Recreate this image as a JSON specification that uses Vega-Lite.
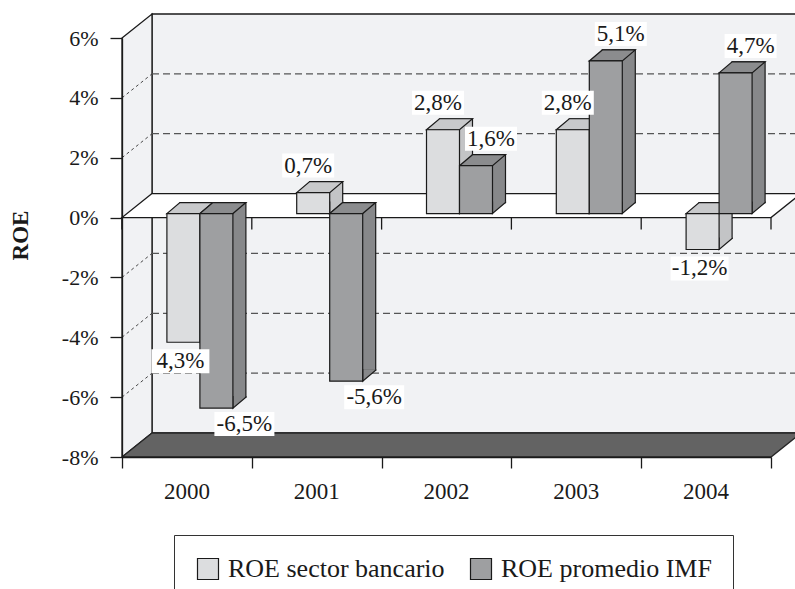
{
  "$schema": "https://vega.github.io/schema/vega-lite/v6.json",
  "width": 649,
  "height": 419,
  "autosize": {"type": "none"},
  "padding": {"left": 122, "top": 38, "right": 24, "bottom": 132},
  "background": "white",
  "config": {"view": {"stroke": null}, "font": "Liberation Serif"},
  "datasets": {
    "bars": [
      {"year": "2000", "serie": "ROE sector bancario", "v": -4.3, "label": "4,3%"},
      {"year": "2000", "serie": "ROE promedio IMF", "v": -6.5, "label": "-6,5%"},
      {"year": "2001", "serie": "ROE sector bancario", "v": 0.7, "label": "0,7%"},
      {"year": "2001", "serie": "ROE promedio IMF", "v": -5.6, "label": "-5,6%"},
      {"year": "2002", "serie": "ROE sector bancario", "v": 2.8, "label": "2,8%"},
      {"year": "2002", "serie": "ROE promedio IMF", "v": 1.6, "label": "1,6%"},
      {"year": "2003", "serie": "ROE sector bancario", "v": 2.8, "label": "2,8%"},
      {"year": "2003", "serie": "ROE promedio IMF", "v": 5.1, "label": "5,1%"},
      {"year": "2004", "serie": "ROE sector bancario", "v": -1.2, "label": "-1,2%"},
      {"year": "2004", "serie": "ROE promedio IMF", "v": 4.7, "label": "4,7%"}
    ],
    "grid": [{"g": 4}, {"g": 2}, {"g": -2}, {"g": -4}, {"g": -6}],
    "bounds": [{"b": 0}, {"b": 1}, {"b": 2}, {"b": 3}, {"b": 4}, {"b": 5}],
    "side": [{"sx": 0, "lo": -8, "hi": 6}, {"sx": 0.2311, "lo": -7.198, "hi": 6.802}],
    "floor0": [{"fy": 0, "xa": 0, "xb": 5}, {"fy": 0.802, "xa": 0.2311, "xb": 5.2311}],
    "floor8": [{"fy": -8, "xa": 0, "xb": 5}, {"fy": -7.198, "xa": 0.2311, "xb": 5.2311}]
  },
  "resolve": {"scale": {"x": "independent"}, "axis": {"x": "independent"}},
  "layer": [
    {
      "layer": [
        {
          "data": {"values": [{}]},
          "mark": {"type": "rect", "fill": "#f1f2f4", "stroke": "#1a1a1a", "strokeWidth": 1.3, "xOffset": 30, "x2Offset": 30, "yOffset": -24, "y2Offset": -24},
          "encoding": {
            "x": {"datum": 0, "type": "quantitative", "title": null, "scale": {"domain": [0, 5], "nice": false, "zero": false},
              "axis": {"orient": "bottom", "values": [0, 1, 2, 3, 4, 5], "labels": false, "ticks": true, "tickSize": 11, "tickColor": "#1a1a1a", "tickWidth": 1.3, "domain": true, "domainColor": "#1a1a1a", "domainWidth": 1.3, "grid": false, "zindex": 1}},
            "x2": {"datum": 5},
            "y": {"datum": -8, "type": "quantitative", "title": "ROE", "scale": {"domain": [-8, 6], "nice": false, "zero": false},
              "axis": {"values": [-8, -6, -4, -2, 0, 2, 4, 6], "labelExpr": "datum.value + '%'", "tickSize": 12, "tickColor": "#1a1a1a", "tickWidth": 1.3, "domainColor": "#1a1a1a", "domainWidth": 1.3, "labelPadding": 12, "labelFontSize": 22, "labelColor": "#1a1a1a", "labelFont": "Liberation Serif", "grid": false, "titleFontSize": 23, "titleFontWeight": "bold", "titleColor": "#1a1a1a", "titleFont": "Liberation Serif", "titleAngle": -90, "titleX": -102, "titleY": 197, "titleBaseline": "middle", "titleAlign": "center", "zindex": 1}},
            "y2": {"datum": 6}
          }
        },
        {
          "data": {"name": "side"},
          "mark": {"type": "area", "orient": "vertical", "fill": "#f1f2f4", "stroke": "#1a1a1a", "strokeWidth": 1.3},
          "encoding": {
            "x": {"field": "sx", "type": "quantitative", "title": null, "scale": {"domain": [0, 5], "nice": false, "zero": false}},
            "y": {"field": "hi", "type": "quantitative", "title": "ROE", "scale": {"domain": [-8, 6], "nice": false, "zero": false}},
            "y2": {"field": "lo"}
          }
        },
        {
          "data": {"name": "grid"},
          "mark": {"type": "rule", "stroke": "#555555", "strokeWidth": 1.2, "strokeDash": [7, 4], "xOffset": 30, "x2Offset": 30, "yOffset": -24},
          "encoding": {
            "x": {"datum": 0, "type": "quantitative", "title": null, "scale": {"domain": [0, 5], "nice": false, "zero": false}},
            "x2": {"datum": 5},
            "y": {"field": "g", "type": "quantitative", "title": "ROE", "scale": {"domain": [-8, 6], "nice": false, "zero": false}}
          }
        },
        {
          "data": {"name": "grid"},
          "mark": {"type": "rule", "stroke": "#333333", "strokeWidth": 0.9, "strokeDash": [3, 3], "x2Offset": 30, "y2Offset": -24},
          "encoding": {
            "x": {"datum": 0, "type": "quantitative", "title": null, "scale": {"domain": [0, 5], "nice": false, "zero": false}},
            "x2": {"datum": 0},
            "y": {"field": "g", "type": "quantitative", "title": "ROE", "scale": {"domain": [-8, 6], "nice": false, "zero": false}},
            "y2": {"field": "g"}
          }
        },
        {
          "data": {"name": "floor8"},
          "mark": {"type": "area", "orient": "horizontal", "fill": "#636363", "stroke": "#262626", "strokeWidth": 1.3},
          "encoding": {
            "y": {"field": "fy", "type": "quantitative", "title": "ROE", "scale": {"domain": [-8, 6], "nice": false, "zero": false}},
            "x": {"field": "xa", "type": "quantitative", "title": null, "scale": {"domain": [0, 5], "nice": false, "zero": false}},
            "x2": {"field": "xb"}
          }
        },
        {
          "data": {"name": "floor0"},
          "mark": {"type": "area", "orient": "horizontal", "fill": "#ffffff", "stroke": "#1a1a1a", "strokeWidth": 1.3},
          "encoding": {
            "y": {"field": "fy", "type": "quantitative", "title": "ROE", "scale": {"domain": [-8, 6], "nice": false, "zero": false}},
            "x": {"field": "xa", "type": "quantitative", "title": null, "scale": {"domain": [0, 5], "nice": false, "zero": false}},
            "x2": {"field": "xb"}
          }
        },
        {
          "data": {"name": "bounds"},
          "mark": {"type": "rule", "stroke": "#1a1a1a", "strokeWidth": 1.3, "y2Offset": 12},
          "encoding": {
            "x": {"field": "b", "type": "quantitative", "title": null, "scale": {"domain": [0, 5], "nice": false, "zero": false}},
            "y": {"datum": 0, "type": "quantitative", "title": "ROE", "scale": {"domain": [-8, 6], "nice": false, "zero": false}},
            "y2": {"datum": 0}
          }
        }
      ]
    },
    {
      "data": {"name": "bars"},
      "encoding": {
        "x": {"field": "year", "type": "ordinal", "title": null, "scale": {"paddingInner": 0.7458, "paddingOuter": 0.3729},
          "axis": {"orient": "bottom", "ticks": false, "tickSize": 0, "domain": false, "labelPadding": 23, "labelFontSize": 23, "labelColor": "#1a1a1a", "labelFont": "Liberation Serif", "labelAngle": 0, "grid": false, "zindex": 1}},
        "y": {"field": "v", "type": "quantitative", "title": "ROE", "scale": {"domain": [-8, 6], "nice": false, "zero": false}}
      },
      "layer": [
        {
          "mark": {"type": "bar", "stroke": "#1a1a1a", "strokeWidth": 1.2, "xOffset": {"expr": "datum.serie == 'ROE sector bancario' ? 9.5 : 42.5"}, "yOffset": -15, "y2Offset": -15},
          "encoding": {
            "y2": {"datum": 0},
            "fill": {"condition": {"test": "datum.serie == 'ROE sector bancario'", "value": "#c3c4c6"}, "value": "#87888a"}
          }
        },
        {
          "transform": [{"filter": "datum.v > 0"}],
          "mark": {"type": "point", "shape": "M16.5,-12L16.5,0L29.5,-11L29.5,-12", "size": 4, "filled": true, "opacity": 1, "stroke": "#1a1a1a", "strokeWidth": 1.2, "xOffset": {"expr": "datum.serie == 'ROE sector bancario' ? -3.5 : 29.5"}, "yOffset": -4},
          "encoding": {
            "y": {"datum": 0, "type": "quantitative"},
            "fill": {"condition": {"test": "datum.serie == 'ROE sector bancario'", "value": "#c3c4c6"}, "value": "#87888a"}
          }
        },
        {
          "transform": [{"filter": "datum.v < 0"}],
          "mark": {"type": "point", "shape": "M16.5,-12L16.5,0L29.5,-11L29.5,-12", "size": 4, "filled": true, "opacity": 1, "stroke": "#1a1a1a", "strokeWidth": 1.2, "xOffset": {"expr": "datum.serie == 'ROE sector bancario' ? -3.5 : 29.5"}, "yOffset": -4},
          "encoding": {
            "fill": {"condition": {"test": "datum.serie == 'ROE sector bancario'", "value": "#c3c4c6"}, "value": "#87888a"}
          }
        },
        {
          "transform": [{"filter": "datum.v > 0"}],
          "mark": {"type": "point", "shape": "M-16.5,0L16.5,0L29.5,-11L-3.5,-11Z", "size": 4, "filled": true, "opacity": 1, "stroke": "#1a1a1a", "strokeWidth": 1.2, "xOffset": {"expr": "datum.serie == 'ROE sector bancario' ? -3.5 : 29.5"}, "yOffset": -4},
          "encoding": {
            "fill": {"condition": {"test": "datum.serie == 'ROE sector bancario'", "value": "#c8c9cb"}, "value": "#8b8c8e"}
          }
        },
        {
          "transform": [{"filter": "datum.v < 0"}],
          "mark": {"type": "point", "shape": "M-16.5,0L16.5,0L29.5,-11L-3.5,-11Z", "size": 4, "filled": true, "opacity": 1, "stroke": "#1a1a1a", "strokeWidth": 1.2, "xOffset": {"expr": "datum.serie == 'ROE sector bancario' ? -3.5 : 29.5"}, "yOffset": -4},
          "encoding": {
            "y": {"datum": 0, "type": "quantitative"},
            "fill": {"condition": {"test": "datum.serie == 'ROE sector bancario'", "value": "#c8c9cb"}, "value": "#8b8c8e"}
          }
        },
        {
          "mark": {"type": "bar", "stroke": "#1a1a1a", "strokeWidth": 1.2, "xOffset": {"expr": "datum.serie == 'ROE sector bancario' ? -3.5 : 29.5"}, "yOffset": -4, "y2Offset": -4},
          "encoding": {
            "y2": {"datum": 0},
            "fill": {"field": "serie", "type": "nominal",
              "scale": {"domain": ["ROE sector bancario", "ROE promedio IMF"], "range": ["#dcdddf", "#9e9fa1"]},
              "legend": {"orient": "none", "legendX": 52, "legendY": 497, "direction": "horizontal", "title": null, "symbolType": "square", "symbolSize": 441, "symbolStrokeColor": "#1a1a1a", "symbolStrokeWidth": 1.2, "symbolOpacity": 1, "labelFontSize": 26, "labelFont": "Liberation Serif", "labelColor": "#1a1a1a", "labelOffset": 7, "columnPadding": 23, "padding": 21, "strokeColor": "#333333", "fillColor": "#ffffff", "labelLimit": 400}}
          }
        },
        {
          "transform": [{"filter": "datum.v > 0 && datum.serie == 'ROE sector bancario'"}],
          "layer": [
            {"mark": {"type": "point", "shape": "M-26,-12H26V12H-26Z", "size": 4, "filled": true, "opacity": 1, "fill": "#ffffff", "xOffset": -8.5, "yOffset": -31}},
            {"mark": {"type": "text", "fontSize": 23, "color": "#1a1a1a", "align": "center", "baseline": "middle", "xOffset": -8.5, "yOffset": -31}, "encoding": {"text": {"field": "label"}}}
          ]
        },
        {
          "transform": [{"filter": "datum.v > 0 && datum.serie == 'ROE promedio IMF'"}],
          "layer": [
            {"mark": {"type": "point", "shape": "M-26,-12H26V12H-26Z", "size": 4, "filled": true, "opacity": 1, "fill": "#ffffff", "xOffset": 44.5, "yOffset": -31}},
            {"mark": {"type": "text", "fontSize": 23, "color": "#1a1a1a", "align": "center", "baseline": "middle", "xOffset": 44.5, "yOffset": -31}, "encoding": {"text": {"field": "label"}}}
          ]
        },
        {
          "transform": [{"filter": "datum.v < 0 && datum.serie == 'ROE sector bancario'"}],
          "layer": [
            {"mark": {"type": "point", "shape": "M-29,-12H29V12H-29Z", "size": 4, "filled": true, "opacity": 1, "fill": "#ffffff", "xOffset": -6.5, "yOffset": 15}},
            {"mark": {"type": "text", "fontSize": 23, "color": "#1a1a1a", "align": "center", "baseline": "middle", "xOffset": -6.5, "yOffset": 15}, "encoding": {"text": {"field": "label"}}}
          ]
        },
        {
          "transform": [{"filter": "datum.v < 0 && datum.serie == 'ROE promedio IMF'"}],
          "layer": [
            {"mark": {"type": "point", "shape": "M-30,-12H30V12H-30Z", "size": 4, "filled": true, "opacity": 1, "fill": "#ffffff", "xOffset": 57.5, "yOffset": 12}},
            {"mark": {"type": "text", "fontSize": 23, "color": "#1a1a1a", "align": "center", "baseline": "middle", "xOffset": 57.5, "yOffset": 12}, "encoding": {"text": {"field": "label"}}}
          ]
        }
      ]
    }
  ]
}
